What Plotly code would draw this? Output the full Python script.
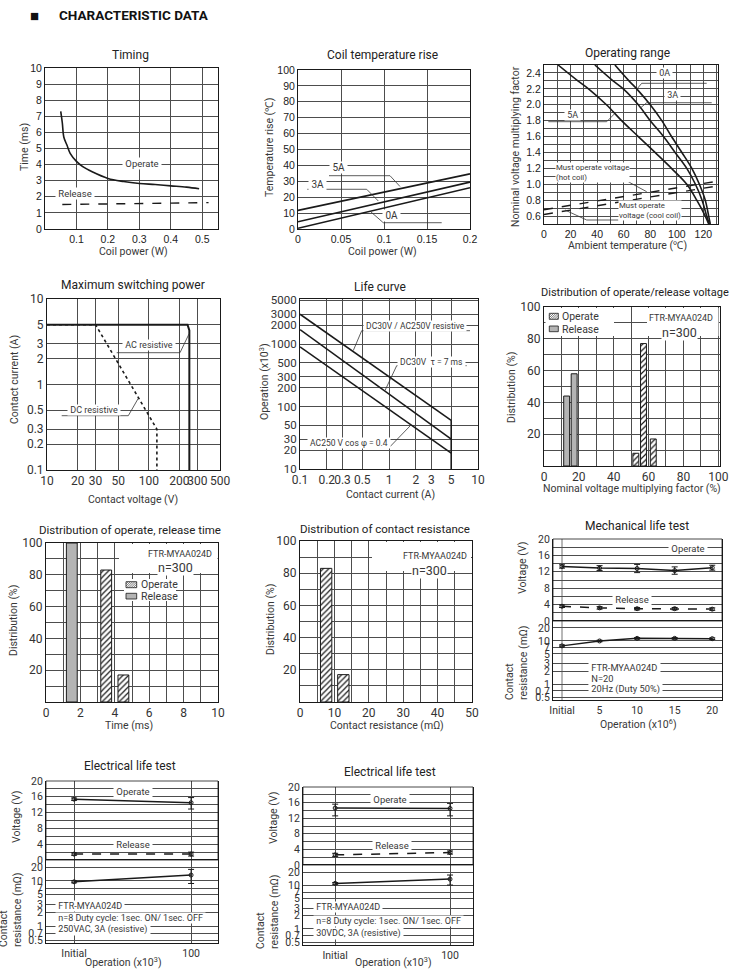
import numpy as np
import plotly.graph_objects as go

W, H = 731, 976

# ------------------------------------------------------------------ data
# Timing
timing_power_operate = [0.05, 0.055, 0.06, 0.07, 0.08, 0.1, 0.12, 0.15, 0.2, 0.25, 0.3, 0.35, 0.4, 0.45, 0.49]
timing_operate_ms = [7.3, 6.6, 5.7, 5.2, 4.7, 4.2, 3.87, 3.55, 3.14, 2.95, 2.83, 2.76, 2.68, 2.6, 2.5]
timing_power_release = [0.055, 0.52]
timing_release_ms = [1.52, 1.64]
timing_x_ticks = [0.1, 0.2, 0.3, 0.4, 0.5]
timing_y_ticks = [0, 1, 2, 3, 4, 5, 6, 7, 8, 9, 10]

# Coil temperature rise
coil_power = [0, 0.2]
temp_rise_0A = [0.5, 26]
temp_rise_3A = [4.5, 29.5]
temp_rise_5A = [11.7, 34.7]
coil_x_ticks = [0, 0.05, 0.1, 0.15, 0.2]
coil_x_labels = ['0', '0.05', '0.1', '0.15', '0.2']
coil_y_ticks = [0, 10, 20, 30, 40, 50, 60, 70, 80, 90, 100]

# Operating range
op_factor = [2.5, 2.3, 2.2, 2.0, 1.8, 1.6, 1.4, 1.2, 1.0, 0.8, 0.6, 0.5]
op_temp_5A = [10.6, 25.5, 33.5, 47, 58.4, 71, 83.6, 96, 107.5, 115, 121.4, 124]
op_temp_3A = [38.3, 52, 59.7, 71, 80, 90, 98.7, 107.5, 114, 119, 122.5, 124.5]
op_temp_0A = [53.4, 64, 69.8, 80, 88.7, 96, 103.8, 111.3, 117, 121.4, 124, 125.2]
must_temp = [0, 131]
must_hot = [0.68, 1.04]
must_cool = [0.62, 0.98]
op_x_ticks = [0, 20, 40, 60, 80, 100, 120]
op_y_ticks = [0.6, 0.8, 1.0, 1.2, 1.4, 1.6, 1.8, 2.0, 2.2, 2.4]

# Maximum switching power
ac_voltage = [10, 240, 250, 250]
ac_current = [5, 5, 4.3, 0.1]
dc_voltage = [10, 30, 120, 120]
dc_current = [5, 5, 0.3, 0.1]
msp_x_ticks = [10, 20, 30, 50, 100, 200, 300, 500]
msp_y_ticks = [0.1, 0.2, 0.3, 0.5, 1, 2, 3, 5, 10]

# Life curve
life_current = [0.1, 5]
life_resistive = [3000, 60]
life_dc_inductive = [1700, 30]
life_ac_inductive = [900, 18]
life_limit_current = [5, 5]
life_limit_ops = [60, 10]
life_x_ticks = [0.1, 0.2, 0.3, 0.5, 1, 2, 3, 5, 10]
life_y_ticks = [10, 20, 30, 50, 100, 200, 300, 500, 1000, 2000, 3000, 5000]

# Distribution of operate/release voltage
dv_release_x = [13.0, 17.3]
dv_release_pct = [44, 58]
dv_operate_x = [52.7, 57.1, 62.7]
dv_operate_pct = [8, 77, 17]
dv_x_ticks = [0, 20, 40, 60, 80, 100]
dist_y_ticks = [20, 40, 60, 80, 100]

# Distribution of operate, release time
dt_release_x = [1.5]
dt_release_pct = [100]
dt_operate_x = [3.5, 4.5]
dt_operate_pct = [83, 17]
dt_x_ticks = [0, 2, 4, 6, 8, 10]

# Distribution of contact resistance
dr_x = [7.6, 12.6]
dr_pct = [83, 17]
dr_x_ticks = [0, 10, 20, 30, 40, 50]

# Mechanical life test
mech_ops = [0, 5, 10, 15, 20]
mech_labels = ['Initial', '5', '10', '15', '20']
mech_operate_v = [13.3, 12.9, 12.8, 12.3, 13.0]
mech_operate_err = [0.4, 0.6, 1.0, 0.9, 0.6]
mech_release_v = [3.6, 3.2, 3.0, 3.0, 2.9]
mech_release_err = [0.3, 0.3, 0.3, 0.3, 0.3]
mech_resist = [7.7, 10.0, 11.5, 11.5, 11.3]
mech_resist_err = [0.4, 0.4, 0.5, 0.5, 0.5]

# Electrical life tests
elec_ops = ['Initial', '100']
e1_operate = [15.4, 14.5]
e1_operate_plus = [0.3, 1.3]
e1_operate_minus = [0.3, 1.6]
e1_release = [1.5, 1.5]
e1_release_err = [0.3, 0.5]
e1_resist = [9.6, 13.5]
e1_resist_plus = [0.5, 4.5]
e1_resist_minus = [0.5, 4.7]

e2_operate = [14.6, 14.5]
e2_operate_plus = [1.0, 1.3]
e2_operate_minus = [2.0, 1.9]
e2_release = [2.6, 3.2]
e2_release_err = [0.4, 0.4]
e2_resist = [11.0, 13.8]
e2_resist_plus = [0.5, 3.3]
e2_resist_minus = [0.5, 3.7]

volt_ticks = [0, 4, 8, 12, 16, 20]
resist_ticks = [0.5, 0.7, 1, 2, 3, 5, 7, 10, 20]
resist_labels = ['0.5', '0.7', '1', '2', '3', '5', '7', '10', '20']

# ------------------------------------------------------------------ style
ARIAL = 'Liberation Sans, Arial, sans-serif'
HUM = 'Roboto, Noto Sans, sans-serif'
INK = '#1a1a1a'
GRID = '#4d4d4d'
TXT = '#383838'
GRAYBAR = '#b4b4b4'

F_ROW1 = dict(family=ARIAL, size=10.5, color='#222')
F_TICK = dict(family=HUM, size=12, color='#333')
F_LIFE = dict(family=HUM, size=10.5, color='#333')

fig = go.Figure()
layout = dict(template='none', width=W, height=H, margin=dict(l=0, r=0, t=0, b=0, pad=0, autoexpand=False),
              paper_bgcolor='white', plot_bgcolor='white', showlegend=False,
              barmode='overlay', font=dict(family=HUM, color=TXT))
annots, shapes = [], []


def xr(i):
    return 'x' if i == 1 else f'x{i}'


def yr(i):
    return 'y' if i == 1 else f'y{i}'


def base_axis(**kw):
    d = dict(showline=True, mirror=True, linecolor=INK, linewidth=1,
             showgrid=True, gridcolor=GRID, gridwidth=0.8, zeroline=False,
             ticks='', fixedrange=True, tickfont=F_TICK, automargin=False, tickangle=0)
    d.update(kw)
    return d


def set_x(i, left, right, anchor, **kw):
    layout['xaxis' if i == 1 else f'xaxis{i}'] = base_axis(domain=[left / W, right / W], anchor=anchor, **kw)


def set_y(i, top, bottom, anchor, **kw):
    layout['yaxis' if i == 1 else f'yaxis{i}'] = base_axis(domain=[1 - bottom / H, 1 - top / H], anchor=anchor, **kw)


def minor(dt, t0=0):
    return dict(dtick=dt, tick0=t0, showgrid=True, gridcolor=GRID, gridwidth=0.8, ticks='')


def text(xp, yp, s, size=9.5, family=HUM, color=TXT, xanchor='center', yanchor='middle',
         bg=None, align='center', angle=0, bold=False):
    a = dict(x=xp / W, y=1 - yp / H, xref='paper', yref='paper', text=s, showarrow=False,
             xanchor=xanchor, yanchor=yanchor, align=align, textangle=angle, borderpad=0,
             font=dict(family=family, size=size, color=color, weight='bold' if bold else 'normal'))
    if bg:
        a['bgcolor'] = bg
    annots.append(a)


def pline(pts, color='#333', width=0.8, dash=None):
    path = 'M ' + ' L '.join(f'{x / W:.5f},{1 - y / H:.5f}' for x, y in pts)
    ln = dict(color=color, width=width)
    if dash:
        ln['dash'] = dash
    shapes.append(dict(type='path', path=path, xref='paper', yref='paper', line=ln, layer='above'))


def prect(x0, y0, x1, y1, fill='white', line=None):
    shapes.append(dict(type='rect', xref='paper', yref='paper', x0=x0 / W, x1=x1 / W,
                       y0=1 - y1 / H, y1=1 - y0 / H, fillcolor=fill,
                       line=dict(width=0 if line is None else 0.8, color=line or 'white'),
                       layer='above'))


def swatch(x0, y0, x1, y1, hatched):
    if hatched:
        prect(x0, y0, x1, y1, fill='white', line=INK)
        h = y1 - y0
        s = x0 - h
        while s < x1:
            t0 = max(0, x0 - s)
            t1 = min(h, x1 - s)
            if t1 > t0:
                pline([(s + t0, y1 - t0), (s + t1, y1 - t1)], color=INK, width=0.6)
            s += 2.2
    else:
        prect(x0, y0, x1, y1, fill=GRAYBAR, line=INK)


def line_trace(x, y, i_x, i_y, dash=None, width=1.6, shape='linear'):
    ln = dict(color=INK, width=width, shape=shape)
    if dash:
        ln['dash'] = dash
    fig.add_trace(go.Scatter(x=x, y=y, mode='lines', line=ln, xaxis=xr(i_x), yaxis=yr(i_y),
                             hoverinfo='skip'))


HATCH = dict(color='white', line=dict(color=INK, width=1),
             pattern=dict(shape='/', fgcolor=INK, bgcolor='white', size=4, solidity=0.3))
GRAYM = dict(color=GRAYBAR, line=dict(color=INK, width=1))

# ------------------------------------------------------------------ header
text(34.5, 15, '■', size=15, family=ARIAL, color='#111')
text(58, 15, 'CHARACTERISTIC DATA', size=13.5, family=HUM, color='#111', xanchor='left', bold=True)

# ------------------------------------------------------------------ P1 Timing
set_x(1, 45, 218, 'y', range=[0, 0.55], tickmode='array', tickvals=timing_x_ticks,
      ticktext=[str(v) for v in timing_x_ticks], tickfont=F_ROW1)
set_y(1, 68, 229, 'x', range=[0, 10], tickmode='array', tickvals=timing_y_ticks, tickfont=F_ROW1)
line_trace(timing_power_operate, timing_operate_ms, 1, 1, shape='spline')
line_trace(timing_power_release, timing_release_ms, 1, 1, dash='dash', width=1.4)
text(141.7, 163.5, ' Operate ', size=9.5, bg='white')
text(75, 193.5, ' Release ', size=9.5, bg='white')

# ------------------------------------------------------------------ P2 Coil temperature rise
set_x(2, 298, 470, 'y2', range=[0, 0.2], tickmode='array', tickvals=coil_x_ticks,
      ticktext=coil_x_labels, tickfont=F_ROW1)
set_y(2, 70, 229, 'x2', range=[0, 100], tickmode='array', tickvals=coil_y_ticks, tickfont=F_ROW1)
line_trace(coil_power, temp_rise_5A, 2, 2)
line_trace(coil_power, temp_rise_3A, 2, 2)
line_trace(coil_power, temp_rise_0A, 2, 2)
text(338.3, 167.7, ' 5A ', size=10, bg='white')
text(317.7, 184, ' 3A ', size=10, bg='white')
text(391.7, 215.5, ' 0A ', size=10, bg='white')
pline([(329, 175.7), (390, 175.7), (400, 186.5)])
pline([(307.3, 189.3), (366.7, 189.3), (378.3, 201)])
pline([(441.7, 222.7), (383.3, 222.7), (370.7, 211.7)])

# ------------------------------------------------------------------ P3 Operating range
set_x(3, 544, 718, 'y3', range=[0, 131], tickmode='array', tickvals=op_x_ticks,
      tickfont=F_ROW1, minor=minor(10))
set_y(3, 65, 224, 'x3', range=[0.5, 2.5], tickmode='array', tickvals=op_y_ticks,
      ticktext=[f'{v:.1f}' for v in op_y_ticks], tickfont=F_ROW1, minor=minor(0.1, 0.5))
line_trace(op_temp_5A, op_factor, 3, 3, shape='spline')
line_trace(op_temp_3A, op_factor, 3, 3, shape='spline')
line_trace(op_temp_0A, op_factor, 3, 3, shape='spline')
line_trace(must_temp, must_hot, 3, 3, dash='dash', width=1.4)
line_trace(must_temp, must_cool, 3, 3, dash='dash', width=1.4)
text(664, 73.3, ' 0A ', size=9, bg='white')
text(672.7, 95, ' 3A ', size=9, bg='white')
text(572.3, 115, ' 5A ', size=9, bg='white')
pline([(641.7, 83.3), (706.7, 83.3)])
pline([(641.7, 83.3), (636.7, 89.3)])
pline([(646.7, 102.7), (711.7, 102.7)])
pline([(646.7, 102.7), (640, 108.3)])
pline([(548.3, 121.7), (606.7, 121.7), (615, 113.3)])
text(555, 172.7, 'Must operate voltage<br>(hot coil)', size=7.8, xanchor='left', align='left', bg='white')
text(618.3, 210.3, 'Must operate<br>voltage (cool coil)', size=7.8, xanchor='left', align='left', bg='white')
pline([(596.7, 180), (625, 180), (646.7, 191.7)])
pline([(618.3, 220), (586.7, 220), (565, 210)])

# ------------------------------------------------------------------ P4 Maximum switching power
set_x(4, 47, 220, 'y4', type='log', range=[1, np.log10(500)], tickmode='array',
      tickvals=msp_x_ticks, ticktext=[str(v) for v in msp_x_ticks])
set_y(4, 299, 470, 'x4', type='log', range=[-1, 1], tickmode='array',
      tickvals=msp_y_ticks, ticktext=[str(v) for v in msp_y_ticks])
line_trace(ac_voltage, ac_current, 4, 4, width=2)
line_trace(dc_voltage, dc_current, 4, 4, dash='dot', width=1.6)
text(149.3, 345, ' AC resistive ', size=9, bg='white')
text(94.3, 410, ' DC resistive ', size=9, bg='white')
pline([(116.7, 352.7), (180, 352.7), (189, 334)])
pline([(61.7, 415.7), (128.3, 415.7), (138.3, 398.3)])

# ------------------------------------------------------------------ P5 Life curve
set_x(5, 300, 478, 'y5', type='log', range=[-1, 1], tickmode='array',
      tickvals=life_x_ticks, ticktext=[str(v) for v in life_x_ticks])
set_y(5, 299, 469, 'x5', type='log', range=[1, 3.72], tickmode='array',
      tickvals=life_y_ticks, ticktext=[str(v) for v in life_y_ticks],
      tickfont=dict(family=HUM, size=11.5, color='#333'))
line_trace(life_current, life_resistive, 5, 5)
line_trace(life_current, life_dc_inductive, 5, 5)
line_trace(life_current, life_ac_inductive, 5, 5)
line_trace(life_limit_current, life_limit_ops, 5, 5)
text(415, 325.7, ' DC30V / AC250V resistive ', size=8.5, bg='white')
text(431.7, 361.7, ' DC30V  τ = 7 ms ', size=8.5, bg='white')
text(349, 442.7, ' AC250 V cos φ = 0.4 ', size=8.5, bg='white')
pline([(361.7, 330.7), (470, 330.7)])
pline([(361.7, 330.7), (353.3, 350.5)])
pline([(396.7, 365.7), (466.7, 365.7)])
pline([(396.7, 365.7), (385, 390.5)])
pline([(308.3, 446.7), (390, 446.7), (410, 426)])

# ------------------------------------------------------------------ P6 Distribution of operate/release voltage
set_x(6, 544, 720, 'y6', range=[0, 101], tickmode='array', tickvals=dv_x_ticks, minor=minor(10))
set_y(6, 307, 466, 'x6', range=[0, 100], tickmode='array', tickvals=dist_y_ticks, minor=minor(10))
fig.add_trace(go.Bar(x=dv_release_x, y=dv_release_pct, width=[3.4] * len(dv_release_x),
                     marker=GRAYM, xaxis='x6', yaxis='y6', hoverinfo='skip'))
fig.add_trace(go.Bar(x=dv_operate_x, y=dv_operate_pct, width=[3.4] * len(dv_operate_x),
                     marker=HATCH, xaxis='x6', yaxis='y6', hoverinfo='skip'))
prect(545.5, 308, 614, 336)
prect(647, 308, 718.5, 336)
swatch(549.3, 313.3, 558.3, 319.3, True)
swatch(549.3, 326, 558.3, 331.7, False)
text(561, 316.3, 'Operate', size=10.5, xanchor='left')
text(561, 329, 'Release', size=10.5, xanchor='left')
text(681, 318, 'FTR-MYAA024D', size=9, bg='white')
text(679, 332.5, 'n=300', size=12.5, bg='white')

# ------------------------------------------------------------------ P7 Distribution of operate, release time
set_x(7, 46, 218, 'y7', range=[0, 10], tickmode='array', tickvals=dt_x_ticks, minor=minor(1))
set_y(7, 543, 702, 'x7', range=[0, 100], tickmode='array', tickvals=dist_y_ticks, minor=minor(10))
fig.add_trace(go.Bar(x=dt_release_x, y=dt_release_pct, width=[0.63] * len(dt_release_x),
                     marker=GRAYM, xaxis='x7', yaxis='y7', hoverinfo='skip'))
fig.add_trace(go.Bar(x=dt_operate_x, y=dt_operate_pct, width=[0.63] * len(dt_operate_x),
                     marker=HATCH, xaxis='x7', yaxis='y7', hoverinfo='skip'))
prect(119, 544, 217.5, 573)
prect(124, 579, 176, 601)
swatch(126, 581.7, 136.7, 587.7, True)
swatch(126, 593.3, 136.7, 599, False)
text(139.5, 584.7, 'Operate', size=10.5, xanchor='left')
text(139.5, 596.2, 'Release', size=10.5, xanchor='left')
text(180, 554, 'FTR-MYAA024D', size=9, bg='white')
text(175, 567.5, 'n=300', size=12.5, bg='white')

# ------------------------------------------------------------------ P8 Distribution of contact resistance
set_x(8, 300, 472, 'y8', range=[0, 50], tickmode='array', tickvals=dr_x_ticks, minor=minor(5))
set_y(8, 541, 702, 'x8', range=[0, 100], tickmode='array', tickvals=dist_y_ticks, minor=minor(10))
fig.add_trace(go.Bar(x=dr_x, y=dr_pct, width=[3.3] * len(dr_x), marker=HATCH,
                     xaxis='x8', yaxis='y8', hoverinfo='skip'))
prect(372, 542, 471, 571)
text(435, 555.5, 'FTR-MYAA024D', size=9, bg='white')
text(429, 570, 'n=300', size=12.5, bg='white')


# ------------------------------------------------------------------ life tests helper
def life_trace(x, y, ix, iy, plus, minus, dash=None):
    ln = dict(color=INK, width=1.5)
    if dash:
        ln['dash'] = dash
    fig.add_trace(go.Scatter(
        x=x, y=y, mode='lines+markers', line=ln,
        marker=dict(symbol='circle-open', size=4, color=INK, line=dict(width=1, color=INK)),
        error_y=dict(type='data', array=plus, arrayminus=minus, symmetric=False,
                     color=INK, thickness=1, width=3),
        xaxis=xr(ix), yaxis=yr(iy), hoverinfo='skip'))


RES_RANGE = [np.log10(0.43), np.log10(29)]

# P9 Mechanical life test
set_x(9, 553, 722, 'y10', range=[-1.2, 21.3], tickmode='array', tickvals=mech_ops,
      ticktext=mech_labels, showgrid=False, tickfont=F_LIFE)
set_y(9, 539, 621, 'x9', range=[0, 20], tickmode='array', tickvals=volt_ticks,
      minor=minor(2), tickfont=F_LIFE)
set_y(10, 621, 700, 'x9', type='log', range=RES_RANGE, tickmode='array',
      tickvals=resist_ticks, ticktext=resist_labels, tickfont=F_LIFE)
shapes.append(dict(type='line', xref='x9', yref='paper', x0=mech_ops[0], x1=mech_ops[0],
                   y0=1 - 700 / H, y1=1 - 539 / H, line=dict(color=GRID, width=0.8), layer='below'))
prect(553, 539, 722, 621, fill='rgba(0,0,0,0)', line=INK)
life_trace(mech_ops, mech_operate_v, 9, 9, mech_operate_err, mech_operate_err)
life_trace(mech_ops, mech_release_v, 9, 9, mech_release_err, mech_release_err, dash='dash')
life_trace(mech_ops, mech_resist, 9, 10, mech_resist_err, mech_resist_err)
text(688.3, 548.3, ' Operate ', size=9.5, bg='white')
text(632.3, 599, ' Release ', size=9.5, bg='white')
text(588, 667.7, ' FTR-MYAA024D ', size=9.3, xanchor='left', bg='white')
text(588, 678.3, ' N=20 ', size=9.3, xanchor='left', bg='white')
text(588, 689, ' 20Hz (Duty 50%) ', size=9.3, xanchor='left', bg='white')

# P10 Electrical life test (AC)
set_x(10, 46, 218, 'y12', type='category', range=[-0.24, 1.23], tickfont=F_LIFE)
set_y(11, 781, 860, 'x10', range=[0, 20], tickmode='array', tickvals=volt_ticks,
      minor=minor(2), tickfont=F_LIFE)
set_y(12, 860, 943, 'x10', type='log', range=RES_RANGE, tickmode='array',
      tickvals=resist_ticks, ticktext=resist_labels, tickfont=F_LIFE)
prect(46, 781, 218, 860, fill='rgba(0,0,0,0)', line=INK)
life_trace(elec_ops, e1_operate, 10, 11, e1_operate_plus, e1_operate_minus)
life_trace(elec_ops, e1_release, 10, 11, e1_release_err, e1_release_err, dash='dash')
life_trace(elec_ops, e1_resist, 10, 12, e1_resist_plus, e1_resist_minus)
text(132.7, 791, ' Operate ', size=9.5, bg='white')
text(132.7, 844.3, ' Release ', size=9.5, bg='white')
text(55, 905.7, ' FTR-MYAA024D ', size=9, xanchor='left', bg='white')
text(55, 917.7, ' n=8 Duty cycle: 1sec. ON/ 1sec. OFF ', size=9, xanchor='left', bg='white')
text(55, 929.3, ' 250VAC, 3A (resistive) ', size=9, xanchor='left', bg='white')

# P11 Electrical life test (DC)
set_x(11, 303, 473, 'y14', type='category', range=[-0.28, 1.2], tickfont=F_LIFE)
set_y(13, 787, 865, 'x11', range=[0, 20], tickmode='array', tickvals=volt_ticks,
      minor=minor(2), tickfont=F_LIFE)
set_y(14, 865, 945, 'x11', type='log', range=RES_RANGE, tickmode='array',
      tickvals=resist_ticks, ticktext=resist_labels, tickfont=F_LIFE)
prect(303, 787, 473, 865, fill='rgba(0,0,0,0)', line=INK)
life_trace(elec_ops, e2_operate, 11, 13, e2_operate_plus, e2_operate_minus)
life_trace(elec_ops, e2_release, 11, 13, e2_release_err, e2_release_err, dash='dash')
life_trace(elec_ops, e2_resist, 11, 14, e2_resist_plus, e2_resist_minus)
text(390, 799.3, ' Operate ', size=9.5, bg='white')
text(391.7, 845, ' Release ', size=9.5, bg='white')
text(313, 906.7, ' FTR-MYAA024D ', size=9, xanchor='left', bg='white')
text(313, 921, ' n=8 Duty cycle: 1sec. ON/ 1sec. OFF ', size=9, xanchor='left', bg='white')
text(313, 933.3, ' 30VDC, 3A (resistive) ', size=9, xanchor='left', bg='white')

# ------------------------------------------------------------------ titles
titles = [
    (130, 55, 'Timing', 12), (383, 55, 'Coil temperature rise', 12),
    (627, 53, 'Operating range', 12), (133, 285, 'Maximum switching power', 12),
    (380, 287, 'Life curve', 12), (635, 293, 'Distribution of operate/release voltage', 11),
    (130, 530, 'Distribution of operate, release time', 11.5),
    (385, 529, 'Distribution of contact resistance', 11.5),
    (637, 526, 'Mechanical life test', 12), (130, 766, 'Electrical life test', 12),
    (390, 772, 'Electrical life test', 12),
]
for xp, yp, s, sz in titles:
    text(xp, yp, s, size=sz, color='#222')

xtitles = [
    (133, 251, 'Coil power (W)'), (383, 251, 'Coil power (W)'),
    (627, 246, 'Ambient temperature (℃)'), (133, 500, 'Contact voltage (V)'),
    (390, 494, 'Contact current (A)'), (632, 488, 'Nominal voltage multiplying factor (%)'),
    (129, 725, 'Time (ms)'), (387, 725, 'Contact resistance (mΩ)'),
    (638, 724, 'Operation (x10<sup>6</sup>)'), (123, 962, 'Operation (x10<sup>3</sup>)'),
    (393, 962, 'Operation (x10<sup>3</sup>)'),
]
for xp, yp, s in xtitles:
    text(xp, yp, s, size=10.5)

ytitles = [
    (24, 147, 'Time (ms)'), (269, 148, 'Temperature rise (℃)'),
    (515, 147, 'Nominal voltage multiplying factor'), (14, 380, 'Contact current (A)'),
    (264, 382, 'Operation (x10<sup>3</sup>)'), (512, 388, 'Distribution (%)'),
    (13, 621, 'Distribution (%)'), (270, 620, 'Distribution (%)'),
    (522, 568, 'Voltage (V)'), (16, 817, 'Voltage (V)'), (273, 818, 'Voltage (V)'),
]
for xp, yp, s in ytitles:
    text(xp, yp, s, size=10.5, angle=-90)
for xp, yp in [(516, 663), (10, 910), (267, 912)]:
    text(xp, yp, 'Contact<br>resistance (mΩ)', size=10.5, angle=-90, align='left')

layout['annotations'] = annots
layout['shapes'] = shapes
fig.update_layout(**layout)
fig.write_html('out.html', config={'displayModeBar': False},
               post_script="document.body.style.margin='0px';document.body.style.padding='0px';")
